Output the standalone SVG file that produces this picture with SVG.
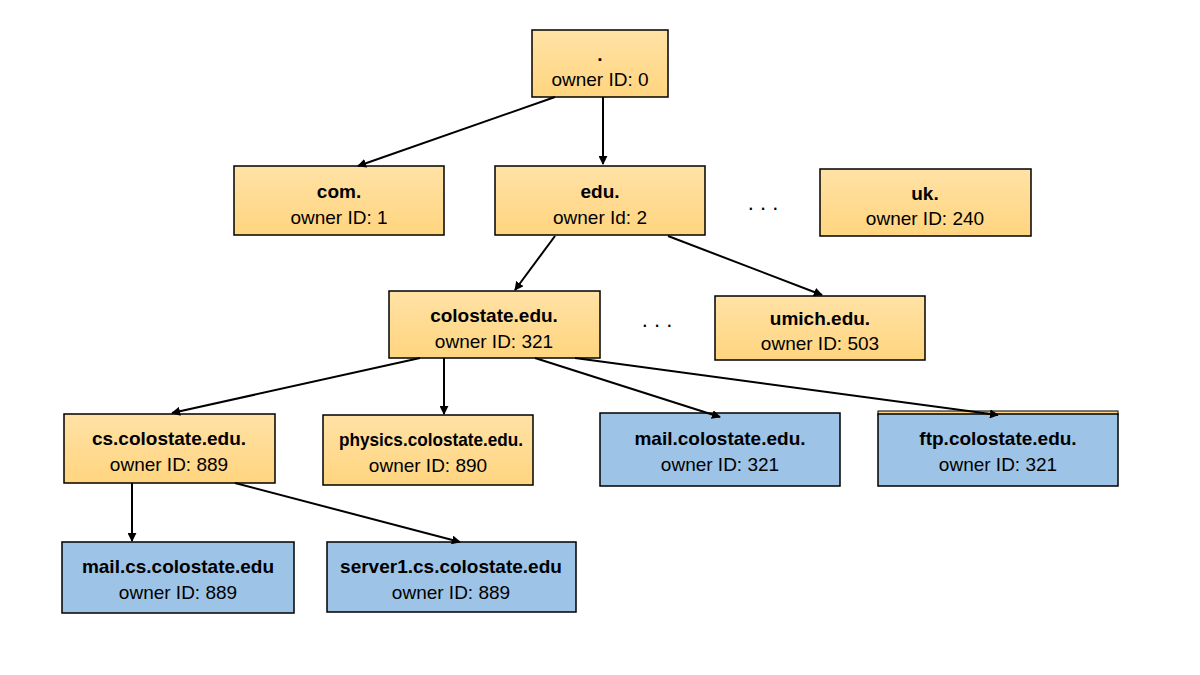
<svg xmlns="http://www.w3.org/2000/svg" width="1200" height="675" viewBox="0 0 1200 675">
<defs>
<linearGradient id="og" x1="0" y1="0" x2="0" y2="1">
<stop offset="0" stop-color="#FFE2A6"/>
<stop offset="1" stop-color="#FFD57F"/>
</linearGradient>
<marker id="ah" viewBox="0 0 10 10" refX="9" refY="5" markerWidth="9" markerHeight="9" markerUnits="userSpaceOnUse" orient="auto">
<path d="M0,0 L10,5 L0,10 Z" fill="#000"/>
</marker>
</defs>
<style>
.o{fill:url(#og);stroke:#000;stroke-width:1.5}
.b{fill:#9DC3E6;stroke:#000;stroke-width:1.5}
text{font-family:"Liberation Sans",Arial,sans-serif;font-size:19px;fill:#000;text-anchor:middle}
.t{font-weight:bold}
.c line{stroke:#000;stroke-width:2;marker-end:url(#ah)}
.d{font-size:22px}
</style>
<rect width="1200" height="675" fill="#fff"/>
<g id="root"><rect class="o" x="532" y="30" width="136" height="67"/><text class="t" x="600" y="61">.</text><text x="600" y="86">owner ID: 0</text></g>
<g id="com"><rect class="o" x="234" y="166" width="210" height="69"/><text class="t" x="339" y="198">com.</text><text x="339" y="224">owner ID: 1</text></g>
<g id="edu"><rect class="o" x="495" y="166" width="210" height="69"/><text class="t" x="600" y="198">edu.</text><text x="600" y="224">owner Id: 2</text></g>
<g id="dots1"><text class="d" x="763" y="210">. . .</text></g>
<g id="uk"><rect class="o" x="820" y="169" width="211" height="67"/><text class="t" x="925" y="200">uk.</text><text x="925" y="225">owner ID: 240</text></g>
<g id="colostate"><rect class="o" x="389" y="291" width="211" height="67"/><text class="t" x="494" y="322">colostate.edu.</text><text x="494" y="348">owner ID: 321</text></g>
<g id="dots2"><text class="d" x="657" y="327">. . .</text></g>
<g id="umich"><rect class="o" x="715" y="296" width="210" height="64"/><text class="t" x="820" y="325">umich.edu.</text><text x="820" y="350">owner ID: 503</text></g>
<g id="cs"><rect class="o" x="64" y="414" width="211" height="69"/><text class="t" x="169" y="445">cs.colostate.edu.</text><text x="169" y="471">owner ID: 889</text></g>
<g id="physics"><rect class="o" x="323" y="415" width="210" height="70"/><text class="t" x="431" y="446" textLength="184" lengthAdjust="spacingAndGlyphs">physics.colostate.edu.</text><text x="428" y="472">owner ID: 890</text></g>
<g id="mail"><rect class="b" x="600" y="413" width="240" height="73"/><text class="t" x="720" y="445">mail.colostate.edu.</text><text x="720" y="471">owner ID: 321</text></g>
<g id="ftp"><rect x="878" y="411" width="240" height="4" fill="#FFD57F" stroke="#000" stroke-width="1"/><rect class="b" x="878" y="414" width="240" height="72"/><text class="t" x="998" y="445">ftp.colostate.edu.</text><text x="998" y="471">owner ID: 321</text></g>
<g id="mailcs"><rect class="b" x="62" y="542" width="232" height="71"/><text class="t" x="178" y="573">mail.cs.colostate.edu</text><text x="178" y="599">owner ID: 889</text></g>
<g id="server1"><rect class="b" x="327" y="542" width="249" height="70"/><text class="t" x="451" y="573">server1.cs.colostate.edu</text><text x="451" y="599">owner ID: 889</text></g>
<g id="connectors" class="c">
<line x1="555" y1="97" x2="358" y2="166"/>
<line x1="603" y1="97" x2="603" y2="164"/>
<line x1="555" y1="236" x2="515" y2="290"/>
<line x1="668" y1="236" x2="822" y2="295"/>
<line x1="420" y1="358" x2="172" y2="413"/>
<line x1="444" y1="358" x2="444" y2="414"/>
<line x1="535" y1="358" x2="720" y2="417"/>
<line x1="575" y1="358" x2="998" y2="415"/>
<line x1="132" y1="483" x2="132" y2="541"/>
<line x1="235" y1="483" x2="460" y2="542"/>
</g>
</svg>
